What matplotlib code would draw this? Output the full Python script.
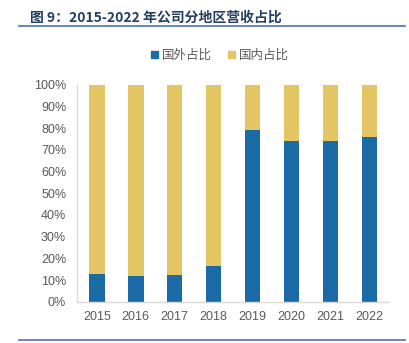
import matplotlib
matplotlib.use("Agg")
import matplotlib.pyplot as plt
import matplotlib.lines as mlines
from matplotlib.patches import Patch

plt.rcParams["font.family"] = ["Noto Sans CJK SC", "DejaVu Sans"]

# --- data (share of revenue, %) ---
years = ["2015", "2016", "2017", "2018", "2019", "2020", "2021", "2022"]
overseas = [12.9, 12.0, 12.4, 16.6, 79.0, 74.2, 73.9, 76.0]
domestic = [100 - v for v in overseas]

BLUE = "#1A6AA5"
YELLOW = "#E3C663"
GRAY = "#595959"

fig = plt.figure(figsize=(4.1, 3.43), dpi=100)
ax = fig.add_axes([0.1885, 0.1204, 0.760, 0.6326])

x = range(len(years))
ax.bar(x, overseas, width=0.4, color=BLUE, label="国外占比")
ax.bar(x, domestic, width=0.4, bottom=overseas, color=YELLOW, label="国内占比")

ax.set_xlim(-0.5, 7.5)
ax.set_ylim(0, 100)
ax.set_yticks(range(0, 101, 10))
ax.set_yticklabels([f"{v}%" for v in range(0, 101, 10)],
                   family=["Liberation Sans", "DejaVu Sans"])
ax.set_xticks(list(x))
ax.set_xticklabels(years, family=["Liberation Sans", "DejaVu Sans"])
ax.tick_params(axis="both", colors=GRAY, labelsize=9, length=0)
ax.tick_params(axis="x", pad=7)
ax.tick_params(axis="y", pad=8)
for s in ["top", "right"]:
    ax.spines[s].set_visible(False)
for s in ["left", "bottom"]:
    ax.spines[s].set_color("#D9D9D9")
    ax.spines[s].set_linewidth(1.0)

handles = [Patch(color=BLUE, label="国外占比"), Patch(color=YELLOW, label="国内占比")]
fig.legend(handles=handles, loc="center", bbox_to_anchor=(0.536, 0.838), ncol=2,
           frameon=False, fontsize=9, handlelength=0.55, handleheight=0.55,
           handletextpad=0.3, columnspacing=1.3, labelcolor=GRAY)

# title and rules
fig.text(30 / 410, 1 - 18 / 343, "图 9：2015-2022 年公司分地区营收占比",
         fontsize=10, fontweight="bold", color="#243F60", va="center", ha="left")
fig.add_artist(mlines.Line2D([19 / 410, 405 / 410], [1 - 25.7 / 343] * 2,
                             color="#4F72B0", linewidth=1.2))
fig.add_artist(mlines.Line2D([19 / 410, 405 / 410], [1 - 340 / 343] * 2,
                             color="#4F72B0", linewidth=1.2))

fig.savefig("out.png", dpi=100)
